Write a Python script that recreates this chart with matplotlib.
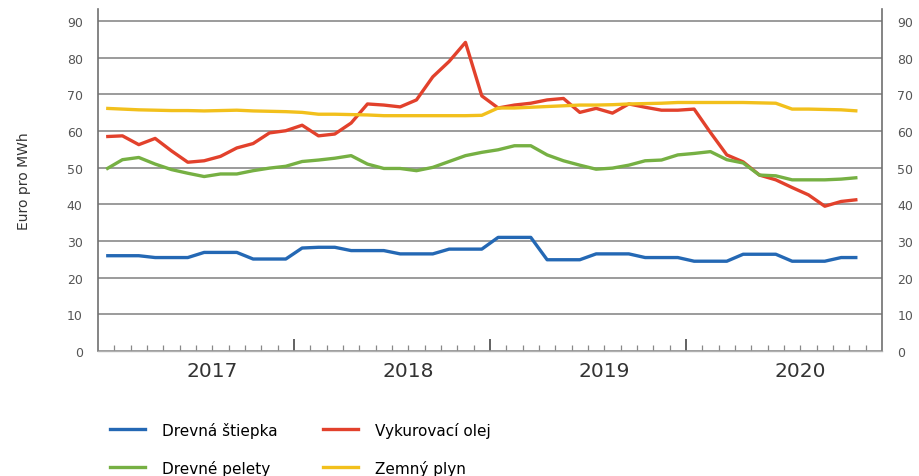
import numpy as np
import matplotlib
matplotlib.use("Agg")
import matplotlib.pyplot as plt
from matplotlib.lines import Line2D

# monthly values, mid-2016 .. spring 2020
wood_chips = [26, 26, 26, 25.5, 25.5, 25.5, 26.9, 26.9, 26.9, 25.1, 25.1, 25.1,
              28.1, 28.3, 28.3, 27.4, 27.4, 27.4, 26.5, 26.5, 26.5, 27.8, 27.8, 27.8,
              31, 31, 31, 24.9, 24.9, 24.9, 26.5, 26.5, 26.5, 25.5, 25.5, 25.5,
              24.5, 24.5, 24.5, 26.4, 26.4, 26.4, 24.5, 24.5, 24.5, 25.5, 25.5]
heating_oil = [58.5, 58.7, 56.3, 58, 54.6, 51.5, 51.9, 53.1, 55.4, 56.6, 59.5, 60.1,
               61.6, 58.7, 59.2, 62.2, 67.4, 67.1, 66.6, 68.5, 74.8, 79, 84.2, 69.6,
               66.3, 67.1, 67.6, 68.5, 68.9, 65.1, 66.2, 64.9, 67.4, 66.5, 65.7, 65.7,
               66, 59.6, 53.5, 51.6, 48, 46.7, 44.6, 42.6, 39.5, 40.8, 41.3]
pellets = [49.6, 52.2, 52.8, 51, 49.5, 48.5, 47.6, 48.3, 48.3, 49.2, 49.9, 50.4,
           51.7, 52.1, 52.6, 53.3, 51, 49.8, 49.8, 49.2, 50.1, 51.7, 53.3, 54.2,
           54.9, 56, 56, 53.5, 51.9, 50.7, 49.6, 49.9, 50.7, 51.9, 52.1, 53.5,
           53.9, 54.4, 52.2, 51.3, 48, 47.8, 46.7, 46.7, 46.7, 46.9, 47.3]
natural_gas = [66.2, 66, 65.8, 65.7, 65.6, 65.6, 65.5, 65.6, 65.7, 65.5, 65.4, 65.3,
               65.1, 64.6, 64.6, 64.5, 64.4, 64.2, 64.2, 64.2, 64.2, 64.2, 64.2, 64.3,
               66.3, 66.3, 66.5, 66.7, 66.9, 67.1, 67.1, 67.2, 67.4, 67.5, 67.6, 67.8,
               67.8, 67.8, 67.8, 67.8, 67.7, 67.6, 66, 66, 65.9, 65.8, 65.5]

series_names = ["Drevná štiepka", "Vykurovací olej", "Drevné pelety", "Zemný plyn"]
series_colors = ["#2468b4", "#e2412c", "#76b043", "#f2c01c"]
years = ["2017", "2018", "2019", "2020"]

plt.rcParams['font.family'] = ['DejaVu Sans']

fig = plt.figure(figsize=(9.19, 4.77), dpi=100)
ax = fig.add_axes([0.1066, 0.262, 0.8531, 0.717])

x = np.arange(len(wood_chips)) + 0.5
for vals, col in zip([wood_chips, heating_oil, pellets, natural_gas], series_colors):
    ax.plot(x, vals, color=col, lw=2.4, solid_joinstyle='round',
            solid_capstyle='butt', zorder=3)

ax.set_xlim(0, 48)
ax.set_ylim(0, 93.3)
ax.set_yticks(range(0, 91, 10))
ax.grid(axis='y', color='#8a8a8a', lw=1.2)
ax.set_axisbelow(True)

ax.spines['top'].set_visible(False)
for s in ['left', 'right']:
    ax.spines[s].set_color('#707070')
    ax.spines[s].set_linewidth(1.2)
ax.spines['bottom'].set_color('#b0b0b0')
ax.spines['bottom'].set_linewidth(1.0)

ax.tick_params(axis='y', length=0, pad=11, labelsize=9, labelcolor='#555555',
               labelright=True, right=False)
ax.set_xticks([12, 24, 36])
ax.set_xticks(range(1, 48), minor=True)
ax.tick_params(axis='x', which='major', length=9, width=1.3, color='#555555',
               labelbottom=False, direction='in')
ax.tick_params(axis='x', which='minor', length=4, width=0.9, color='#888888',
               direction='in')

for pos, yr in zip([7, 19, 31, 43], years):
    ax.text(pos, -0.03, yr, transform=ax.get_xaxis_transform(), ha='center',
            va='top', fontsize=14.5, color='#333333')

ax.set_ylabel("Euro pro MWh", fontsize=10, color='#333333', labelpad=26)

handles = [Line2D([], [], color=c, lw=2.4) for c in series_colors]
order = [0, 2, 1, 3]
fig.legend([handles[i] for i in order], [series_names[i] for i in order],
           ncol=2, loc='upper left', bbox_to_anchor=(0.111, 0.13),
           frameon=False, fontsize=11, handlelength=2.3, handletextpad=1.1,
           columnspacing=3.0, labelspacing=1.45, borderpad=0)

fig.savefig("out.png", dpi=100)
